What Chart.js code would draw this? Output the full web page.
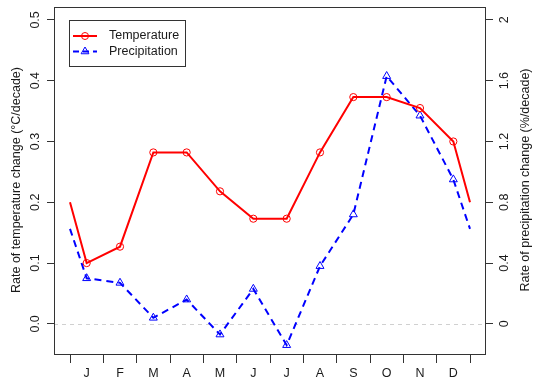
<!DOCTYPE html>
<html>
<head>
<meta charset="utf-8">
<script src="https://cdn.jsdelivr.net/npm/chart.js@4"></script>
<style>
html,body{margin:0;padding:0;background:#fff;}
#wrap{width:540px;height:386px;position:relative;}
</style>
</head>
<body>
<div id="wrap"><canvas id="c" width="540" height="386"></canvas></div>
<script>
// ---- data ----
const positions = [0, 0.5, 1.5, 2.5, 3.5, 4.5, 5.5, 6.5, 7.5, 8.5, 9.5, 10.5, 11.5, 12];
const monthLabels = ['J','F','M','A','M','J','J','A','S','O','N','D'];
const temperature = [0.2, 0.1, 0.127, 0.282, 0.282, 0.218, 0.173, 0.173, 0.282, 0.373, 0.373, 0.355, 0.3, 0.2];
const precipitation = [0.625, 0.30, 0.27, 0.04, 0.16, -0.07, 0.23, -0.14, 0.38, 0.72, 1.63, 1.37, 0.95, 0.625];
const leftTicks = [0, 0.1, 0.2, 0.3, 0.4, 0.5];
const leftTickLabels = ['0.0','0.1','0.2','0.3','0.4','0.5'];
const rightTicks = [0, 0.4, 0.8, 1.2, 1.6, 2];
const rightTickLabels = ['0','0.4','0.8','1.2','1.6','2'];
const monthTickPositions = [0.5,1.5,2.5,3.5,4.5,5.5,6.5,7.5,8.5,9.5,10.5,11.5];
const boundaryTicks = [0,1,2,3,4,5,6,7,8,9,10,11,12];
const seriesNames = ['Temperature','Precipitation'];
const leftTitle = 'Rate of temperature change (\u00B0C/decade)';
const rightTitle = 'Rate of precipitation change (%/decade)';

const FONT_FAMILY = '"Liberation Sans", Arial, sans-serif';
const FONT = '12.5px ' + FONT_FAMILY;
const AXIS = '#333';
const TEXT = '#1a1a1a';
const RED = '#ff0000', BLUE = '#0000ff';

const toPts = (ys) => ys.map((y, i) => ({x: positions[i], y}));
const lastIdx = positions.length - 1;
const isEnd = (ctx) => ctx.dataIndex === 0 || ctx.dataIndex === lastIdx;

const overlay = {
  id: 'overlay',
  beforeDatasetsDraw(chart) {
    const {ctx, chartArea: a, scales} = chart;
    const y0 = Math.round(scales.y.getPixelForValue(0)) + 0.5;
    ctx.save();
    ctx.strokeStyle = '#d0d0d0';
    ctx.lineWidth = 1;
    ctx.setLineDash([4, 4]);
    ctx.beginPath(); ctx.moveTo(a.left, y0); ctx.lineTo(a.right, y0); ctx.stroke();
    ctx.restore();
  },
  afterDraw(chart) {
    const {ctx, chartArea: a, scales} = chart;
    ctx.save();
    // box
    ctx.strokeStyle = AXIS; ctx.lineWidth = 1; ctx.setLineDash([]);
    ctx.strokeRect(Math.round(a.left) + 0.5, Math.round(a.top) + 0.5,
                   Math.round(a.right - a.left) - 1, Math.round(a.bottom - a.top) - 1);
    ctx.fillStyle = TEXT;
    ctx.font = FONT;
    ctx.textAlign = 'center';
    ctx.textBaseline = 'middle';
    // y tick labels (rotated)
    leftTicks.forEach((v, i) => {
      const py = scales.y.getPixelForValue(v);
      ctx.save(); ctx.translate(36, py); ctx.rotate(-Math.PI / 2);
      ctx.fillText(leftTickLabels[i], 0, 0); ctx.restore();
    });
    rightTicks.forEach((v, i) => {
      const py = scales.y2.getPixelForValue(v);
      ctx.save(); ctx.translate(505, py); ctx.rotate(-Math.PI / 2);
      ctx.fillText(rightTickLabels[i], 0, 0); ctx.restore();
    });
    const midY = (a.top + a.bottom) / 2 - 1;
    ctx.save(); ctx.translate(17, midY); ctx.rotate(-Math.PI / 2);
    ctx.fillText(leftTitle, 0, 0); ctx.restore();
    ctx.save(); ctx.translate(526, midY); ctx.rotate(-Math.PI / 2);
    ctx.fillText(rightTitle, 0, 0); ctx.restore();

    // legend
    ctx.strokeStyle = AXIS; ctx.lineWidth = 1;
    ctx.strokeRect(69.5, 20.5, 116, 46);
    const rows = [36, 51.5];
    ctx.strokeStyle = RED; ctx.lineWidth = 2;
    ctx.beginPath(); ctx.moveTo(73, rows[0]); ctx.lineTo(97, rows[0]); ctx.stroke();
    ctx.lineWidth = 1;
    ctx.beginPath(); ctx.arc(85, rows[0], 3.5, 0, Math.PI * 2); ctx.stroke();
    ctx.strokeStyle = BLUE; ctx.lineWidth = 2; ctx.setLineDash([6, 4]);
    ctx.beginPath(); ctx.moveTo(73, rows[1]); ctx.lineTo(97, rows[1]); ctx.stroke();
    ctx.setLineDash([]); ctx.lineWidth = 1;
    const r = 4.5;
    ctx.beginPath();
    ctx.moveTo(85, rows[1] - r);
    ctx.lineTo(85 + r * Math.sin(2 * Math.PI / 3), rows[1] - r * Math.cos(2 * Math.PI / 3));
    ctx.lineTo(85 - r * Math.sin(2 * Math.PI / 3), rows[1] - r * Math.cos(2 * Math.PI / 3));
    ctx.closePath(); ctx.stroke();
    ctx.fillStyle = TEXT; ctx.textAlign = 'left';
    ctx.fillText(seriesNames[0], 109, rows[0]);
    ctx.fillText(seriesNames[1], 109, rows[1]);
    ctx.restore();
  }
};

new Chart(document.getElementById('c'), {
  type: 'line',
  data: {
    datasets: [
      {
        label: seriesNames[0], data: toPts(temperature), yAxisID: 'y',
        borderColor: RED, borderWidth: 2, tension: 0,
        pointStyle: 'circle', pointRadius: (c) => isEnd(c) ? 0 : 3.6, pointBorderColor: RED,
        pointBackgroundColor: 'rgba(0,0,0,0)', pointBorderWidth: 1
      },
      {
        label: seriesNames[1], data: toPts(precipitation), yAxisID: 'y2',
        borderColor: BLUE, borderWidth: 2, borderDash: [7, 5], tension: 0,
        pointStyle: 'triangle', pointRadius: (c) => isEnd(c) ? 0 : 4.6, pointBorderColor: BLUE,
        pointBackgroundColor: 'rgba(0,0,0,0)', pointBorderWidth: 1
      }
    ]
  },
  options: {
    responsive: false,
    animation: false,
    events: [],
    layout: {padding: {top: 7, left: 0, right: 0, bottom: 0}},
    plugins: {legend: {display: false}, tooltip: {enabled: false}},
    scales: {
      x: {
        type: 'linear', position: 'bottom', min: -0.48, max: 12.48,
        afterBuildTicks: (s) => {
          s.ticks = boundaryTicks.concat(monthTickPositions).sort((p, q) => p - q).map(v => ({value: v}));
        },
        afterFit: (s) => { s.height = 31; },
        ticks: {
          autoSkip: false, maxRotation: 0, minRotation: 0, padding: 3,
          color: TEXT, font: {family: FONT_FAMILY, size: 12.5},
          callback: (v) => {
            const k = monthTickPositions.indexOf(v);
            return k >= 0 ? monthLabels[k] : '';
          }
        },
        grid: {
          drawOnChartArea: false, drawTicks: true, tickLength: 8, tickWidth: 1,
          tickColor: (c) => (c.tick && Number.isInteger(c.tick.value)) ? AXIS : 'rgba(0,0,0,0)'
        },
        border: {display: false}
      },
      y: {
        type: 'linear', position: 'left', min: -0.0512, max: 0.5212,
        afterBuildTicks: (s) => { s.ticks = leftTicks.map(v => ({value: v})); },
        afterFit: (s) => { s.width = 54; },
        ticks: {display: false},
        grid: {drawOnChartArea: false, drawTicks: true, tickLength: 7, tickWidth: 1, tickColor: AXIS},
        border: {display: false}
      },
      y2: {
        type: 'linear', position: 'right', min: -0.2048, max: 2.0848,
        afterBuildTicks: (s) => { s.ticks = rightTicks.map(v => ({value: v})); },
        afterFit: (s) => { s.width = 54; },
        ticks: {display: false},
        grid: {drawOnChartArea: false, drawTicks: true, tickLength: 7, tickWidth: 1, tickColor: AXIS},
        border: {display: false}
      }
    }
  },
  plugins: [overlay]
});
</script>
</body>
</html>
